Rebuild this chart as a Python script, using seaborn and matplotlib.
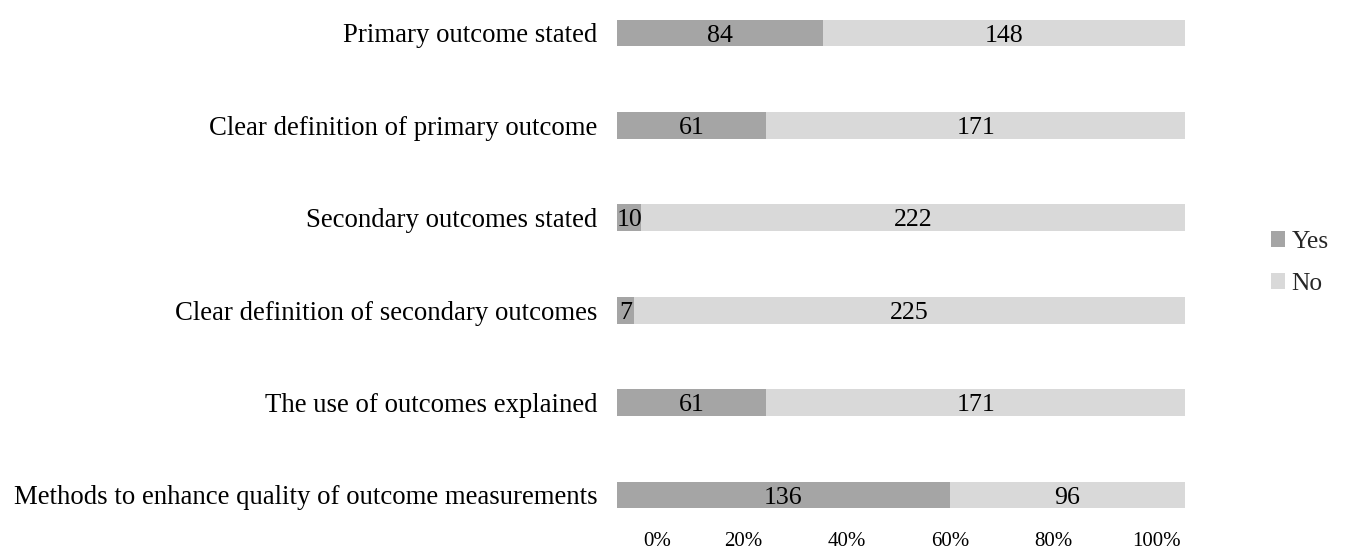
import numpy as np
import pandas as pd
import matplotlib
matplotlib.use("Agg")
import matplotlib.pyplot as plt
import matplotlib.transforms as mtransforms
import seaborn as sns
from matplotlib.patches import Patch

categories = [
    "Primary outcome stated",
    "Clear definition of primary outcome",
    "Secondary outcomes stated",
    "Clear definition of secondary outcomes",
    "The use of outcomes explained",
    "Methods to enhance quality of outcome measurements",
]
yes_counts = [84, 61, 10, 7, 61, 136]
no_counts = [148, 171, 222, 225, 171, 96]
tick_values = [0, 20, 40, 60, 80, 100]
tick_labels = ["0%", "20%", "40%", "60%", "80%", "100%"]
series_names = ["Yes", "No"]

YES_COLOR = "#a5a5a5"
NO_COLOR = "#d9d9d9"
FS_CAT = 19.3
FS_VAL = 18.6
FS_TICK = 15
FS_LEG = 18.4

sns.set_theme(style="white")
plt.rcParams["font.family"] = ["Liberation Serif", "DejaVu Serif"]

df = pd.DataFrame({"category": categories, "yes": yes_counts, "no": no_counts})
df["total"] = df["yes"] + df["no"]
df["yes_pct"] = df["yes"] / df["total"] * 100
df["no_pct"] = df["no"] / df["total"] * 100
df["full"] = df["yes_pct"] + df["no_pct"]

W, H = 1348, 554
fig = plt.figure(figsize=(W / 100, H / 100), dpi=100)
ax = fig.add_axes([617 / W, 1 - 522 / H, 568 / W, 512 / H])

sns.barplot(data=df, y="category", x="full", color=NO_COLOR, saturation=1,
            width=0.29, orient="h", ax=ax, order=categories, linewidth=0,
            edgecolor="none")
sns.barplot(data=df, y="category", x="yes_pct", color=YES_COLOR, saturation=1,
            width=0.29, orient="h", ax=ax, order=categories, linewidth=0,
            edgecolor="none")

for i, row in df.iterrows():
    ax.text(row["yes_pct"] / 2, i, f"{row['yes']}", ha="center",
            va="center_baseline", fontsize=FS_VAL, color="black")
    ax.text(row["yes_pct"] + row["no_pct"] / 2, i, f"{row['no']}", ha="center",
            va="center_baseline", fontsize=FS_VAL, color="black")

ax.set_xlim(0, 100)
ax.set_ylim(5 + (522 - 495) / 92.4, -(33 - 10) / 92.4)
ax.set_xlabel("")
ax.set_ylabel("")
for s in ax.spines.values():
    s.set_visible(False)
ax.tick_params(axis="y", length=0, pad=14, labelsize=FS_CAT, labelcolor="black")
ax.set_xticks([])

# percentage labels (offset as in the original chart)
x0, sc = 4.10, 0.9093
sec = ax.secondary_xaxis("bottom", functions=(lambda m: (m - x0) / sc,
                                              lambda v: v * sc + x0))
sec.set_xticks(tick_values)
sec.set_xticklabels(tick_labels)
sec.tick_params(length=0, pad=7, labelsize=FS_TICK, labelcolor="black")
for s in sec.spines.values():
    s.set_visible(False)
first = sec.get_xticklabels()[0]
first.set_transform(first.get_transform() +
                    mtransforms.ScaledTranslation(17 / 100, 0, fig.dpi_scale_trans))

handles = [Patch(facecolor=YES_COLOR, edgecolor="none"),
           Patch(facecolor=NO_COLOR, edgecolor="none")]
fig.legend(handles, series_names, loc="center left",
           bbox_to_anchor=(1271 / W, 1 - 263 / H), frameon=False,
           fontsize=FS_LEG, handlelength=0.56, handleheight=0.56,
           handletextpad=0.24, labelspacing=0.78, borderpad=0,
           borderaxespad=0)

fig.savefig("out.png", dpi=100)
